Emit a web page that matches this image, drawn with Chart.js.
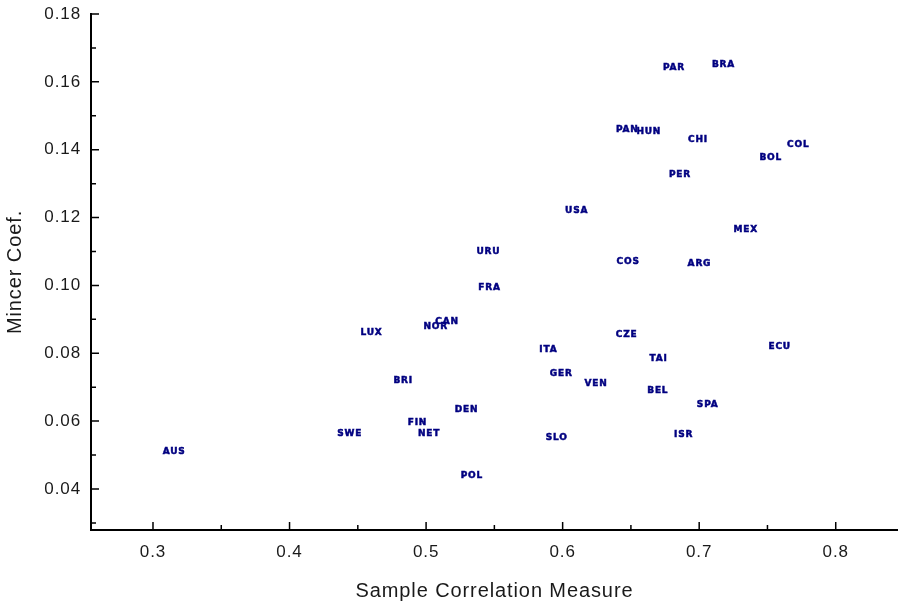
<!DOCTYPE html>
<html>
<head>
<meta charset="utf-8">
<script src="https://cdn.jsdelivr.net/npm/chart.js@4"></script>
<style>
    html, body { margin: 0; padding: 0; background: #fff; }
    canvas { display: block; }
</style>
</head>
<body>
<canvas id="chart" width="898" height="607" style="width:898px;height:607px"></canvas>
<script>

const countries = [
    "AUS", "SWE", "LUX", "NOR", "CAN", "BRI", "FIN", "NET", "DEN", "POL",
    "URU", "FRA", "ITA", "GER", "SLO", "USA", "VEN", "COS", "CZE", "PAN",
    "HUN", "BEL", "TAI", "PAR", "BRA", "CHI", "PER", "ARG", "ISR", "SPA",
    "MEX", "BOL", "COL", "ECU"
];

// sample correlation measure
const corr = [
    0.3155, 0.4441, 0.4600, 0.5070, 0.5153, 0.4832, 0.4937, 0.5022, 0.5296, 0.5335,
    0.5456, 0.5465, 0.5896, 0.5990, 0.5956, 0.6103, 0.6244, 0.6480, 0.6469, 0.6473,
    0.6631, 0.6697, 0.6702, 0.6815, 0.7178, 0.6991, 0.6859, 0.7002, 0.6886, 0.7062,
    0.7341, 0.7524, 0.7726, 0.7590
];

// mincer coefficient
const mincer = [
    0.0511, 0.0562, 0.0862, 0.0879, 0.0892, 0.0718, 0.0596, 0.0562, 0.0633, 0.0440,
    0.1098, 0.0994, 0.0812, 0.0739, 0.0550, 0.1221, 0.0709, 0.1069, 0.0854, 0.1460,
    0.1454, 0.0689, 0.0785, 0.1643, 0.1652, 0.1431, 0.1325, 0.1063, 0.0559, 0.0647,
    0.1163, 0.1378, 0.1415, 0.0818
];

const xMajor = [0.3, 0.4, 0.5, 0.6, 0.7, 0.8];
const xMinor = [0.35, 0.45, 0.55, 0.65, 0.75];
const xTickLabels = ["0.3", "0.4", "0.5", "0.6", "0.7", "0.8"];

const yMajor = [0.04, 0.06, 0.08, 0.10, 0.12, 0.14, 0.16, 0.18];
const yMinor = [0.03, 0.05, 0.07, 0.09, 0.11, 0.13, 0.15, 0.17];
const yTickLabels = ["0.04", "0.06", "0.08", "0.10", "0.12", "0.14", "0.16", "0.18"];


const chartCanvas =
    document.getElementById("chart");

const points =
    corr.map((x, i) => ({ x: x, y: mincer[i] }));


// slightly wider tracking for the axis text
const spacingPlugin = {

    id: "spacing",

    beforeDraw(chart) {
        chart.ctx.letterSpacing = "0.9px";
    }
};


// country codes written at each point
const labelPlugin = {

    id: "codes",

    afterDatasetsDraw(chart) {

        const ctx = chart.ctx;
        const meta = chart.getDatasetMeta(0);

        ctx.save();
        ctx.letterSpacing = "0.8px";
        ctx.font = "bold 9px 'DejaVu Sans'";
        ctx.fillStyle = "#000080";
        ctx.strokeStyle = "#000080";
        ctx.lineWidth = 0.5;
        ctx.textAlign = "center";
        ctx.textBaseline = "middle";

        meta.data.forEach((pt, i) => {
            ctx.fillText(countries[i], pt.x, pt.y);
            ctx.strokeText(countries[i], pt.x, pt.y);
        });

        ctx.restore();
    }
};


// inward tick marks
const tickPlugin = {

    id: "inTicks",

    afterDraw(chart) {

        const ctx = chart.ctx;
        const xs = chart.scales.x;
        const ys = chart.scales.y;
        const area = chart.chartArea;

        ctx.save();
        ctx.strokeStyle = "#000";
        ctx.lineWidth = 1.5;
        ctx.beginPath();

        const yTick = (v, len) => {
            let p = ys.getPixelForValue(v);
            ctx.moveTo(area.left, p);
            ctx.lineTo(area.left + len, p);
        };

        const xTick = (v, len) => {
            let p = xs.getPixelForValue(v);
            ctx.moveTo(p, area.bottom);
            ctx.lineTo(p, area.bottom - len);
        };

        yMajor.forEach(v => yTick(v, 8));
        yMinor.forEach(v => yTick(v, 5));
        xMajor.forEach(v => xTick(v, 8));
        xMinor.forEach(v => xTick(v, 5));

        ctx.stroke();
        ctx.restore();
    }
};


let chart = new Chart(chartCanvas, {

    type: "scatter",

    data: {
        datasets: [{
            data: points,
            pointRadius: 0,
            pointHoverRadius: 0
        }]
    },

    plugins: [spacingPlugin, labelPlugin, tickPlugin],

    options: {

        responsive: false,
        animation: false,
        devicePixelRatio: 1,

        layout: {
            padding: { top: 14, right: 0, left: 0, bottom: 0 }
        },

        plugins: {
            legend: { display: false },
            tooltip: { enabled: false }
        },

        scales: {

            x: {
                type: "linear",
                min: 0.2546,
                max: 0.8456,
                afterBuildTicks: (s) => {
                    s.ticks = xMajor.map(v => ({ value: v }));
                },
                afterFit: (s) => {
                    s.height = 77;
                    s.paddingLeft = 0;
                    s.paddingRight = 0;
                },
                grid: { display: false, drawTicks: false, tickLength: 0 },
                border: { display: true, color: "#000", width: 2 },
                ticks: {
                    padding: 12,
                    color: "#1a1a1a",
                    font: { family: "'Liberation Sans', Arial", size: 17 },
                    maxRotation: 0,
                    callback: (v) => xTickLabels[xMajor.indexOf(v)]
                },
                title: {
                    display: true,
                    text: "Sample Correlation Measure",
                    color: "#1a1a1a",
                    font: { family: "'Liberation Sans', Arial", size: 20 },
                    padding: { top: 0, bottom: 4 }
                }
            },

            y: {
                type: "linear",
                min: 0.0279,
                max: 0.18,
                afterBuildTicks: (s) => {
                    s.ticks = yMajor.map(v => ({ value: v }));
                },
                afterFit: (s) => {
                    s.width = 91;
                    s.paddingTop = 0;
                    s.paddingBottom = 0;
                },
                grid: { display: false, drawTicks: false, tickLength: 0 },
                border: { display: true, color: "#000", width: 2 },
                ticks: {
                    padding: 10,
                    color: "#1a1a1a",
                    font: { family: "'Liberation Sans', Arial", size: 17 },
                    callback: (v) => yTickLabels[yMajor.indexOf(v)]
                },
                title: {
                    display: true,
                    text: "Mincer Coef.",
                    color: "#1a1a1a",
                    font: { family: "'Liberation Sans', Arial", size: 20 },
                    padding: { top: 3, bottom: 0 }
                }
            }
        }
    }

});

</script>
</body>
</html>
